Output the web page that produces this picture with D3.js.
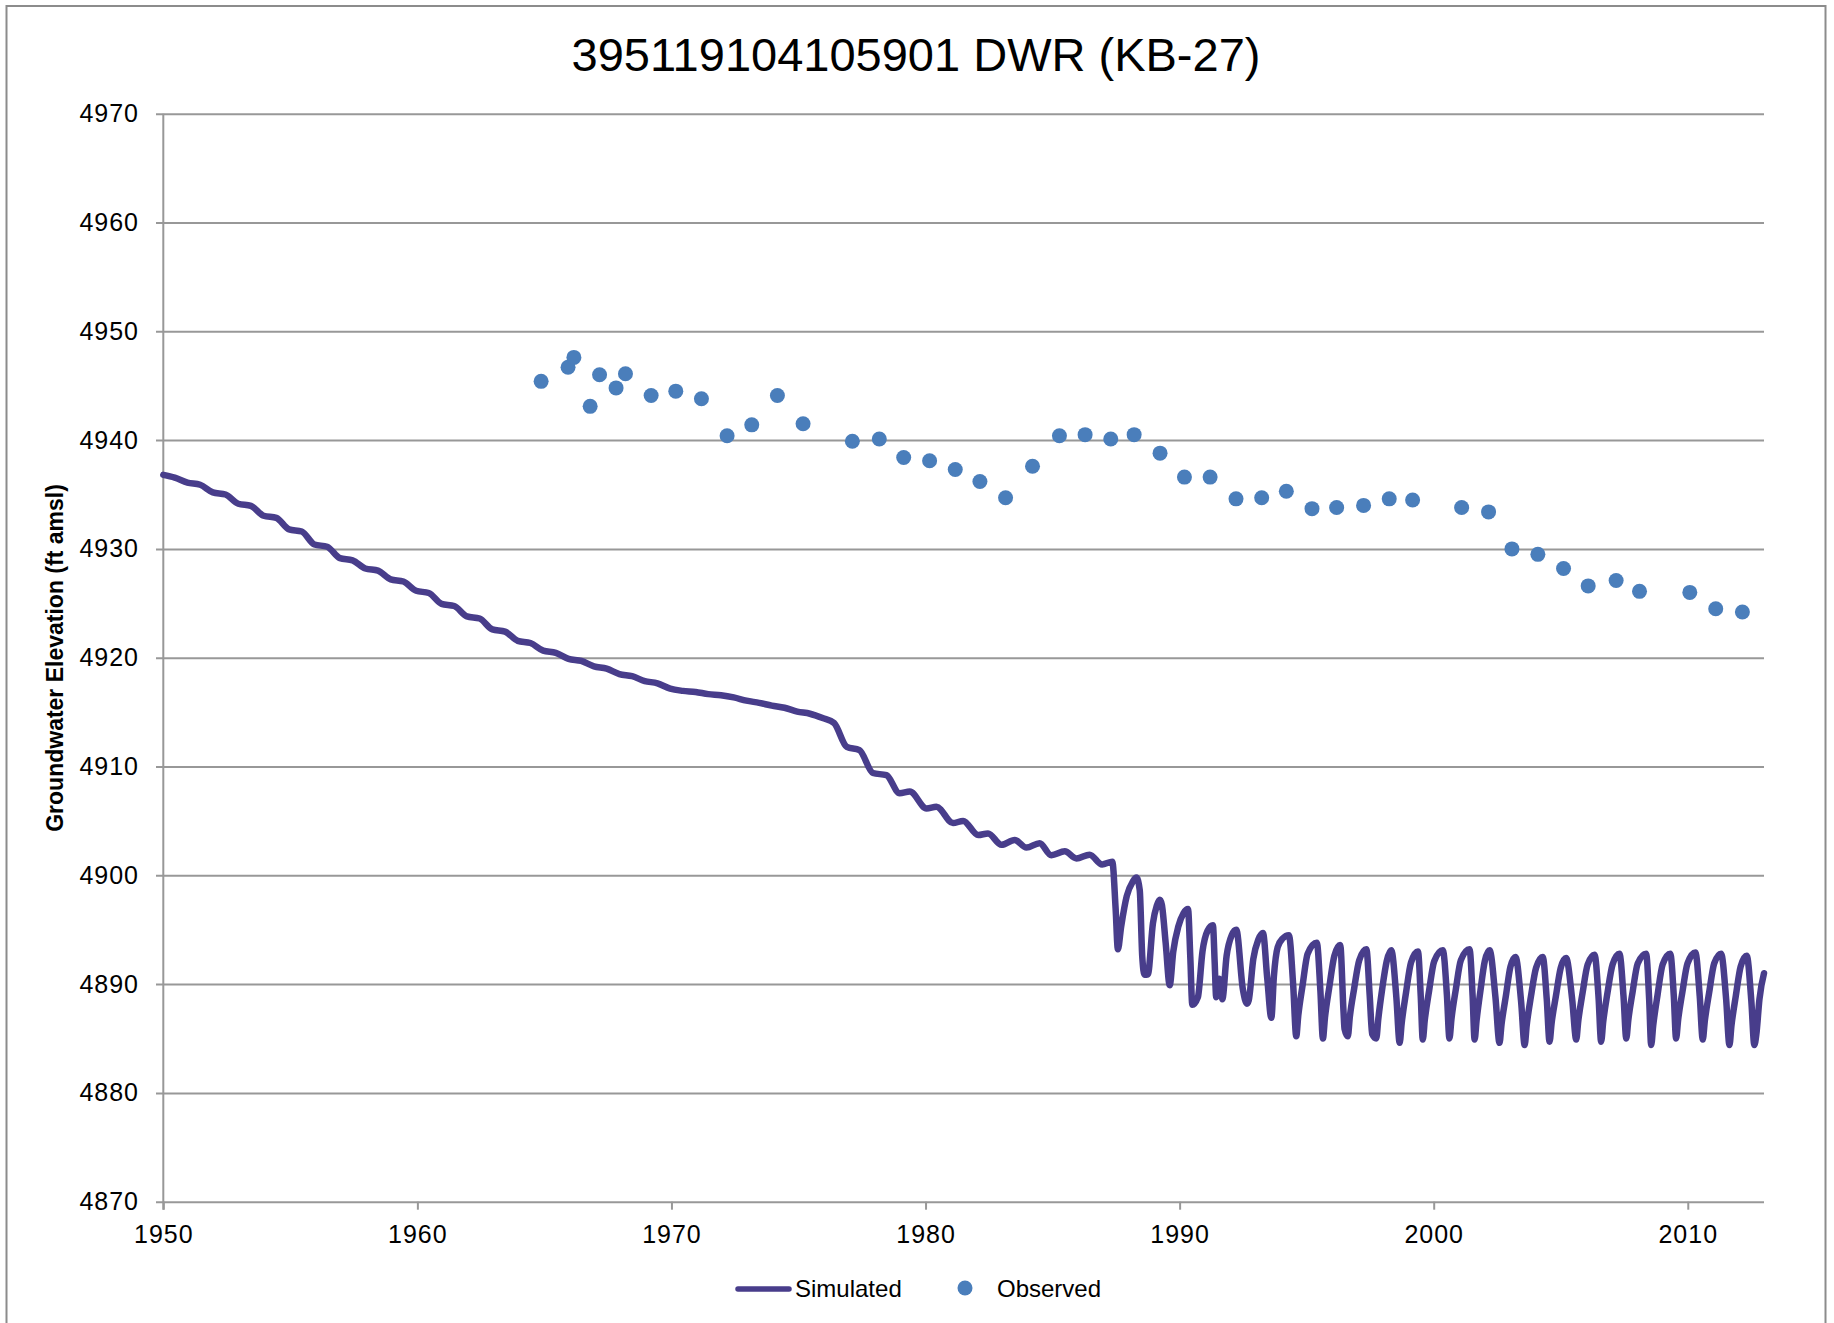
<!DOCTYPE html>
<html><head><meta charset="utf-8">
<script src="https://cdn.jsdelivr.net/npm/d3@7"></script>
<style>
html,body{margin:0;padding:0;background:#fff;}
svg{display:block;}
</style></head><body>
<svg id="chart" width="1834" height="1323"></svg>
<script>
const title = "395119104105901 DWR (KB-27)";
const yLabel = "Groundwater Elevation (ft amsl)";
const seriesNames = ["Simulated", "Observed"];
const xTicks = [1950, 1960, 1970, 1980, 1990, 2000, 2010];
const yTicks = [4870, 4880, 4890, 4900, 4910, 4920, 4930, 4940, 4950, 4960, 4970];

const obsYears = [1964.87, 1965.93, 1966.16, 1966.80, 1967.17, 1967.82, 1968.19, 1969.20, 1970.17, 1971.18,
  1972.19, 1973.16, 1974.17, 1975.18, 1977.12, 1978.18, 1979.14, 1980.16, 1981.17, 1982.14,
  1983.15, 1984.21, 1985.27, 1986.28, 1987.29, 1988.21, 1989.23, 1990.19, 1991.20, 1992.22,
  1993.23, 1994.20, 1995.21, 1996.18, 1997.24, 1998.25, 1999.17, 2001.10, 2002.16, 2003.08,
  2004.10, 2005.11, 2006.08, 2007.18, 2008.10, 2010.08, 2011.10, 2012.15];
const obsValues = [4945.4, 4946.7, 4947.6, 4943.1, 4946.0, 4944.8, 4946.1, 4944.1, 4944.5, 4943.8,
  4940.4, 4941.4, 4944.1, 4941.5, 4939.9, 4940.1, 4938.4, 4938.1, 4937.3, 4936.2,
  4934.7, 4937.6, 4940.4, 4940.5, 4940.1, 4940.5, 4938.8, 4936.6, 4936.6, 4934.6,
  4934.7, 4935.3, 4933.7, 4933.8, 4934.0, 4934.6, 4934.5, 4933.8, 4933.4, 4930.0,
  4929.5, 4928.2, 4926.6, 4927.1, 4926.1, 4926.0, 4924.5, 4924.2];

const simYears = [
  1950.00, 1950.45, 1950.95, 1951.45, 1951.95, 1952.45, 1952.95, 1953.45, 1953.95, 1954.45,
  1954.95, 1955.45, 1955.95, 1956.45, 1956.95, 1957.45, 1957.95, 1958.45, 1958.95, 1959.45,
  1959.95, 1960.45, 1960.95, 1961.45, 1961.95, 1962.45, 1962.95, 1963.45, 1963.95, 1964.45,
  1964.95, 1965.45, 1965.95, 1966.45, 1966.95, 1967.45, 1967.95, 1968.45, 1968.95, 1969.45,
  1969.95, 1970.45, 1970.95, 1971.45, 1971.95, 1972.45, 1972.95, 1973.45, 1973.95, 1974.45,
  1974.95, 1975.45, 1975.95, 1976.40, 1976.90, 1977.40, 1977.93, 1978.46, 1978.98, 1979.38,
  1980.04, 1980.43, 1981.08, 1981.48, 1982.07, 1982.46, 1982.99, 1983.51, 1983.97, 1984.49,
  1984.95, 1985.48, 1985.94, 1986.46, 1986.95, 1987.35,
  1987.48, 1987.57, 1987.70, 1987.92, 1988.15, 1988.30,
  1988.43, 1988.53, 1988.62, 1988.75, 1988.95, 1989.10, 1989.22,
  1989.30, 1989.45, 1989.61, 1989.75, 1989.95, 1990.15, 1990.33,
  1990.42, 1990.50, 1990.72, 1990.90, 1991.10, 1991.31,
  1991.38, 1991.44, 1991.57, 1991.68, 1991.85, 1992.05, 1992.23,
  1992.49, 1992.65, 1992.72, 1992.90, 1993.10, 1993.28,
  1993.45, 1993.61, 1993.71, 1993.86, 1994.06, 1994.30,
  1994.47, 1994.59, 1994.67, 1994.84, 1995.04, 1995.40,
  1995.54, 1995.64, 1995.72, 1995.89, 1996.09, 1996.32,
  1996.45, 1996.49, 1996.62, 1996.70, 1996.87, 1997.07, 1997.35,
  1997.48, 1997.58, 1997.74, 1997.82, 1997.97, 1998.15, 1998.33,
  1998.53, 1998.66, 1998.74, 1998.91, 1999.11, 1999.38,
  1999.49, 1999.57, 1999.65, 1999.82, 2000.02, 2000.36,
  2000.52, 2000.62, 2000.70, 2000.87, 2001.07, 2001.41,
  2001.53, 2001.61, 2001.69, 2001.84, 2002.01, 2002.20,
  2002.43, 2002.59, 2002.67, 2002.84, 2003.02, 2003.22,
  2003.44, 2003.58, 2003.66, 2003.83, 2004.03, 2004.29,
  2004.45, 2004.56, 2004.64, 2004.81, 2005.00, 2005.21,
  2005.45, 2005.61, 2005.69, 2005.86, 2006.06, 2006.33,
  2006.49, 2006.59, 2006.67, 2006.84, 2007.04, 2007.31,
  2007.47, 2007.58, 2007.66, 2007.83, 2008.03, 2008.36,
  2008.48, 2008.56, 2008.64, 2008.81, 2009.01, 2009.31,
  2009.45, 2009.54, 2009.62, 2009.79, 2009.99, 2010.30,
  2010.47, 2010.59, 2010.67, 2010.84, 2011.04, 2011.31,
  2011.51, 2011.64, 2011.72, 2011.89, 2012.08, 2012.32,
  2012.50, 2012.62, 2012.70, 2012.82, 2013.00];
const simValues = [
  4936.80, 4936.55, 4936.10, 4935.90, 4935.20, 4935.00, 4934.15, 4933.95, 4933.05, 4932.85,
  4931.80, 4931.60, 4930.40, 4930.20, 4929.15, 4928.95, 4928.20, 4928.00, 4927.20, 4927.00,
  4926.15, 4925.95, 4924.95, 4924.75, 4923.80, 4923.60, 4922.60, 4922.40, 4921.55, 4921.35,
  4920.65, 4920.45, 4919.90, 4919.70, 4919.20, 4919.00, 4918.50, 4918.30, 4917.85, 4917.65,
  4917.15, 4916.95, 4916.85, 4916.65, 4916.55, 4916.35, 4916.05, 4915.85, 4915.60, 4915.40,
  4915.05, 4914.85, 4914.45, 4914.00, 4911.80, 4911.50, 4909.40, 4909.20, 4907.55, 4907.70,
  4906.15, 4906.30, 4904.80, 4905.00, 4903.70, 4903.85, 4902.80, 4903.25, 4902.55, 4902.95,
  4901.85, 4902.20, 4901.55, 4901.90, 4901.00, 4901.25,
  4897.00, 4893.20, 4895.30, 4898.10, 4899.40, 4899.80,
  4898.65, 4892.50, 4890.85, 4890.90, 4895.60, 4897.20, 4897.75,
  4897.30, 4893.80, 4889.90, 4893.00, 4895.30, 4896.50, 4896.90,
  4892.50, 4888.10, 4888.80, 4893.00, 4894.90, 4895.40,
  4892.00, 4888.80, 4890.50, 4888.60, 4892.60, 4894.50, 4895.00,
  4889.50, 4888.20, 4888.50, 4892.30, 4894.10, 4894.70,
  4890.50, 4886.90, 4890.70, 4893.40, 4894.20, 4894.50,
  4889.90, 4885.20, 4887.10, 4889.90, 4892.80, 4893.80,
  4889.40, 4885.00, 4886.90, 4889.70, 4892.60, 4893.60,
  4887.50, 4885.90, 4885.20, 4887.00, 4889.60, 4892.20, 4893.20,
  4889.00, 4885.40, 4885.00, 4886.80, 4889.50, 4892.10, 4893.10,
  4888.80, 4884.60, 4886.40, 4889.20, 4892.00, 4893.00,
  4888.90, 4884.90, 4886.70, 4889.40, 4892.10, 4893.10,
  4889.00, 4885.00, 4886.80, 4889.50, 4892.20, 4893.20,
  4889.00, 4884.90, 4886.70, 4889.40, 4892.10, 4893.10,
  4888.80, 4884.60, 4886.30, 4888.90, 4891.60, 4892.50,
  4888.40, 4884.40, 4886.20, 4888.90, 4891.50, 4892.50,
  4888.60, 4884.70, 4886.40, 4888.90, 4891.50, 4892.40,
  4888.60, 4884.90, 4886.60, 4889.20, 4891.80, 4892.70,
  4888.70, 4884.70, 4886.50, 4889.20, 4891.80, 4892.80,
  4888.90, 4885.00, 4886.70, 4889.30, 4891.90, 4892.80,
  4888.60, 4884.40, 4886.20, 4889.00, 4891.80, 4892.80,
  4888.90, 4885.00, 4886.70, 4889.30, 4891.90, 4892.90,
  4888.90, 4884.90, 4886.60, 4889.20, 4891.90, 4892.80,
  4888.60, 4884.40, 4886.20, 4888.90, 4891.60, 4892.60,
  4888.50, 4884.40, 4885.40, 4888.60, 4891.00];

const FONT = "'Liberation Sans', Arial, Helvetica, sans-serif";
const lineColor = "#483D8B";
const dotColor = "#4A7EBB";
const gridColor = "#989898";

const svg = d3.select("#chart");
const x = d3.scaleLinear().domain([1950, 2013]).range([163.3, 1764]);
const y = d3.scaleLinear().domain([4870, 4970]).range([1201.7, 113.7]);

// outer border
svg.append("rect").attr("x", 6.5).attr("y", 6).attr("width", 1819).attr("height", 1340)
  .attr("fill", "none").attr("stroke", "#8c8c8c").attr("stroke-width", 2);

// title
svg.append("text").attr("x", 916).attr("y", 71).attr("text-anchor", "middle")
  .attr("font-family", FONT).attr("font-size", 47).attr("fill", "#000").text(title);

// y grid + labels
const gy = svg.append("g").attr("transform", "translate(156,0)")
  .call(d3.axisLeft(y).tickValues(yTicks).tickSize(-(1764 - 156)).tickSizeOuter(0)
    .tickPadding(17).tickFormat(d3.format("d")));
gy.select(".domain").remove();
gy.selectAll(".tick line").attr("stroke", gridColor).attr("stroke-width", 2);
gy.selectAll(".tick text").attr("font-family", FONT).attr("font-size", 25)
  .attr("letter-spacing", 1).attr("fill", "#000");

// x axis
const gx = svg.append("g").attr("transform", `translate(0,${y(4870)})`)
  .call(d3.axisBottom(x).tickValues(xTicks).tickSize(8).tickSizeOuter(0)
    .tickPadding(16).tickFormat(d3.format("d")));
gx.select(".domain").remove();
gx.selectAll(".tick line").attr("stroke", gridColor).attr("stroke-width", 2);
gx.selectAll(".tick text").attr("font-family", FONT).attr("font-size", 25)
  .attr("letter-spacing", 1).attr("fill", "#000");

// left axis line
svg.append("line").attr("x1", x(1950)).attr("x2", x(1950))
  .attr("y1", y(4970)).attr("y2", y(4870) + 8)
  .attr("stroke", gridColor).attr("stroke-width", 2);

// y label
svg.append("text").attr("transform", "translate(63,658) rotate(-90)")
  .attr("text-anchor", "middle").attr("font-family", FONT).attr("font-weight", "bold")
  .attr("font-size", 23).attr("fill", "#000").text(yLabel);

// simulated line
const line = d3.line().x(i => x(simYears[i])).y(i => y(simValues[i])).curve(d3.curveMonotoneX);
svg.append("path").attr("d", line(d3.range(simYears.length)))
  .attr("fill", "none").attr("stroke", lineColor).attr("stroke-width", 6.5)
  .attr("stroke-linejoin", "round").attr("stroke-linecap", "round");

// observed points
svg.append("g").selectAll("circle").data(d3.range(obsYears.length)).join("circle")
  .attr("cx", i => x(obsYears[i])).attr("cy", i => y(obsValues[i])).attr("r", 7.5)
  .attr("fill", dotColor);

// legend
const lg = svg.append("g");
lg.append("line").attr("x1", 738).attr("x2", 789).attr("y1", 1289).attr("y2", 1289)
  .attr("stroke", lineColor).attr("stroke-width", 5.5).attr("stroke-linecap", "round");
lg.append("text").attr("x", 795).attr("y", 1297).attr("font-family", FONT).attr("font-size", 24)
  .attr("fill", "#000").text(seriesNames[0]);
lg.append("circle").attr("cx", 965).attr("cy", 1288).attr("r", 7.5).attr("fill", dotColor);
lg.append("text").attr("x", 997).attr("y", 1297).attr("font-family", FONT).attr("font-size", 24)
  .attr("fill", "#000").text(seriesNames[1]);
</script>
</body></html>
